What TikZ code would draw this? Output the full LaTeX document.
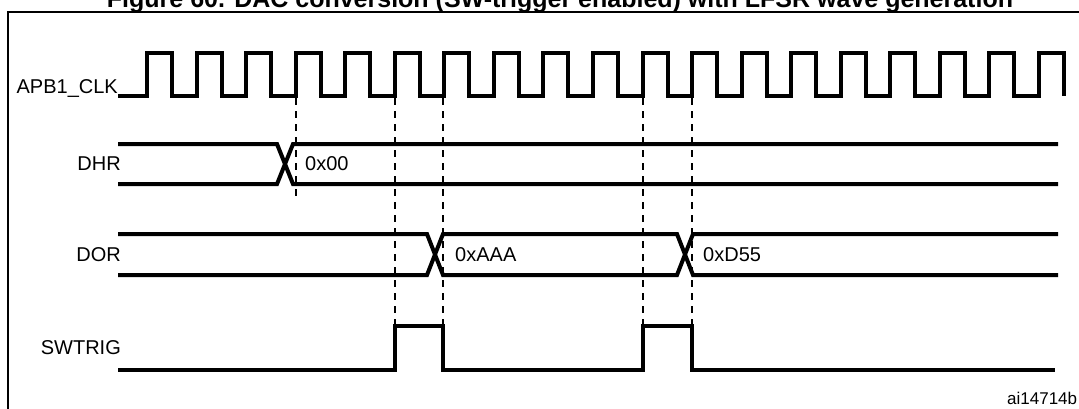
\documentclass[tikz,border=0pt]{standalone}
\usepackage{fontspec}
\setmainfont{Liberation Sans}
\begin{document}
\begin{tikzpicture}[x=1pt,y=-1pt,
    wave/.style={line width=4pt},
    sig/.style={font=\fontsize{20}{20}\selectfont,anchor=east,inner sep=0pt},
    val/.style={font=\fontsize{20}{20}\selectfont,anchor=west,inner sep=0pt}]
      \useasboundingbox (0,0) rectangle (1079,408);
      \def\period{49.55}
      \def\first{147}
      \draw[line width=1.8pt] (8,415) -- (8,12) -- (1090,12);
      \node[font=\bfseries\fontsize{25}{25}\selectfont,anchor=base] (title) at (560,7) {Figure 60. DAC conversion (SW-trigger enabled) with LFSR wave generation};
      % clock
      \node[sig] (clk) at (118,88) {APB1\_CLK};
      \draw[wave] (118,96) -- (\first,96)
        \foreach \k in {0,...,18} {
          -- ({\first+\k*\period},53) -- ({\first+\k*\period+25},53) -- ({\first+\k*\period+25},96)
          \ifnum\k<18 -- ({\first+(\k+1)*\period},96) \fi
        };
      % DHR
      \node[sig] (dhr) at (121,164) {DHR};
      \draw[wave] (118,144) -- (277,144) -- (293,184) -- (1058,184);
      \draw[wave] (118,184) -- (277,184) -- (293,144) -- (1058,144);
      \node[val] (d0) at (305,164) {0x00};
      % DOR
      \node[sig] (dor) at (121,255) {DOR};
      \draw[wave] (118,234) -- (427,234) -- (443,275) -- (677,275) -- (693,234) -- (1058,234);
      \draw[wave] (118,275) -- (427,275) -- (443,234) -- (677,234) -- (693,275) -- (1058,275);
      \node[val] (d1) at (455,255) {0xAAA};
      \node[val] (d2) at (703,255) {0xD55};
      % SWTRIG
      \node[sig] (trig) at (121,348) {SWTRIG};
      \draw[wave] (118,370) -- (395,370) -- (395,326) -- (443,326) -- (443,370)
        -- (643,370) -- (643,326) -- (692,326) -- (692,370) -- (1055,370);
      % markers
      \draw[dashed,line width=1.5pt,dash pattern=on 7pt off 6pt] (296,98) -- (296,196);
      \foreach \x in {395,443,643,692} {
        \draw[dashed,line width=1.5pt,dash pattern=on 7pt off 6pt] (\x,98) -- (\x,326);
      }
      \node[font=\fontsize{17}{17}\selectfont,anchor=base west,inner sep=0pt] (ref) at (1007,404) {ai14714b};
    \end{tikzpicture}
\end{document}
